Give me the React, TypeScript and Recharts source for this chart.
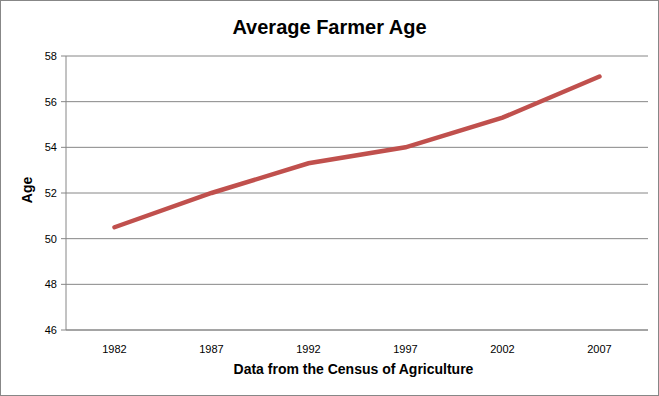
import { LineChart, Line, XAxis, YAxis, CartesianGrid } from "recharts";

const years = ["1982", "1987", "1992", "1997", "2002", "2007"];
const avgAge = [50.5, 52.0, 53.3, 54.0, 55.3, 57.1];
const yTicks = [46, 48, 50, 52, 54, 56, 58];

const data = years.map((year, i) => ({ year, age: avgAge[i] }));

const font = "'Liberation Sans', Arial, sans-serif";
const gray = "#868686";

export default function App() {
  return (
    <div
      style={{
        position: "absolute",
        left: 0,
        top: 0,
        width: 659,
        height: 396,
        boxSizing: "border-box",
        border: "1px solid #878787",
        background: "#fff",
        fontFamily: font,
      }}
    >
      <LineChart
        width={657}
        height={394}
        data={data}
        margin={{ top: 55, right: 10, bottom: 0, left: 0 }}
      >
        <CartesianGrid vertical={false} stroke={gray} strokeWidth={1} />
        <XAxis
          dataKey="year"
          scale="band"
          height={65}
          tickLine={false}
          axisLine={{ stroke: gray }}
          tickMargin={9}
          tick={{ fontSize: 11, fill: "#000", fontFamily: font }}
        />
        <YAxis
          domain={[46, 58]}
          ticks={yTicks}
          width={65}
          tickSize={5}
          tickMargin={4}
          tickLine={{ stroke: gray }}
          axisLine={{ stroke: gray }}
          tick={{ fontSize: 11, fill: "#000", fontFamily: font }}
        />
        <Line
          type="linear"
          dataKey="age"
          stroke="#c0504d"
          strokeWidth={4.5}
          strokeLinecap="round"
          dot={false}
          isAnimationActive={false}
        />
      </LineChart>
      <div style={{ position: "absolute", left: 0, top: 12, width: 657, textAlign: "center", fontSize: 20, fontWeight: "bold", lineHeight: "28px" }}>
        Average Farmer Age
      </div>
      <div style={{ position: "absolute", left: 0, top: 358, width: 705, textAlign: "center", fontSize: 14, fontWeight: "bold", lineHeight: "20px" }}>
        Data from the Census of Agriculture
      </div>
      <div
        style={{
          position: "absolute",
          left: 26,
          top: 189,
          transform: "translate(-50%, -50%) rotate(-90deg)",
          fontSize: 14,
          fontWeight: "bold",
          lineHeight: "20px",
          whiteSpace: "nowrap",
        }}
      >
        Age
      </div>
    </div>
  );
}
